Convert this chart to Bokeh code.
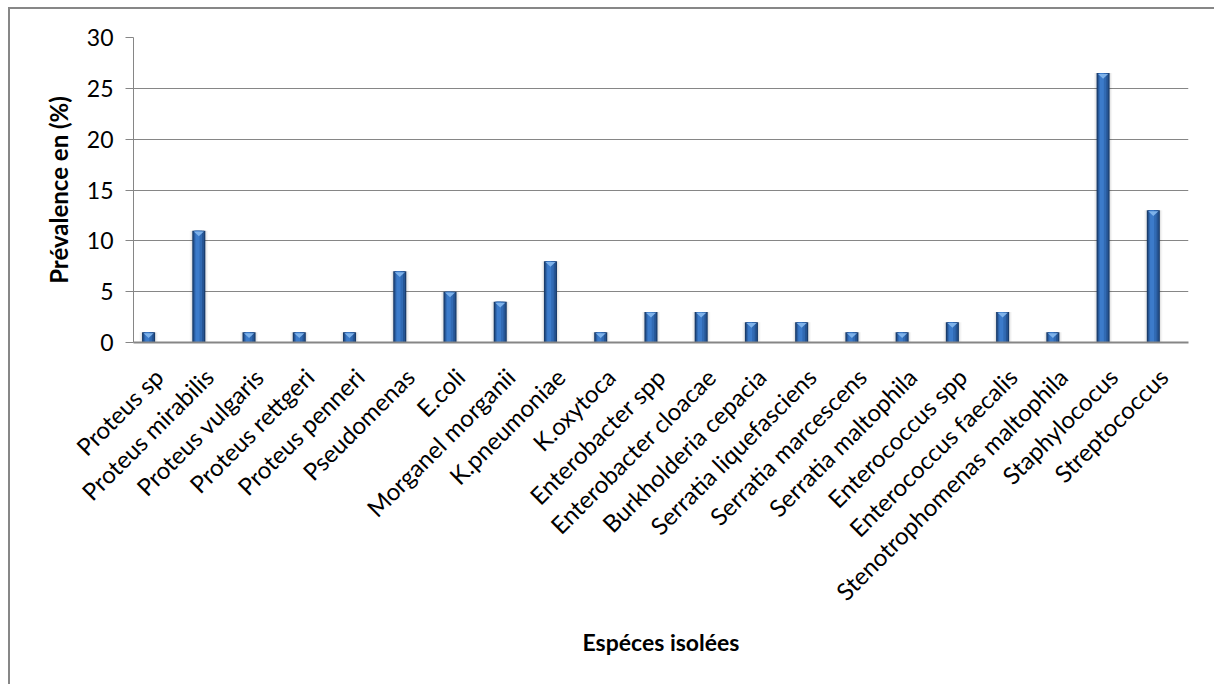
from math import pi

from bokeh.embed import file_html
from bokeh.models import ColumnDataSource, FixedTicker
from bokeh.plotting import figure
from bokeh.resources import INLINE

# Isolated species and their prevalence (%)
species = [
    "Proteus sp", "Proteus mirabilis", "Proteus vulgaris", "Proteus rettgeri",
    "Proteus penneri", "Pseudomenas", "E.coli", "Morganel morganii",
    "K.pneumoniae", "K.oxytoca", "Enterobacter spp", "Enterobacter cloacae",
    "Burkholderia cepacia", "Serratia liquefasciens", "Serratia marcescens",
    "Serratia maltophila", "Enterococcus spp", "Enterococcus faecalis",
    "Stenotrophomenas maltophila", "Staphylococus", "Streptococcus",
]
prevalence = [1, 11, 1, 1, 1, 7, 5, 4, 8, 1, 3, 3, 2, 2, 1, 1, 2, 3, 1, 26.5, 13]

y_ticks = [0, 5, 10, 15, 20, 25, 30]

FONT = "Lato"
GRID = "#868686"

n = len(species)
centers = [i + 0.5 for i in range(n)]
bar_x = [c - 0.2 for c in centers]

src = ColumnDataSource(dict(x=bar_x, top=prevalence))

p = figure(
    frame_width=1055, frame_height=305,
    x_range=(0, n), y_range=(0, 30),
    min_border_left=123, min_border_top=28, min_border_right=26, min_border_bottom=342,
    output_backend="svg", toolbar_location=None,
)
p.margin = (7, 0, 0, 8)
p.styles = {"border-left": "2px solid #878787", "border-top": "2px solid #878787"}
p.outline_line_color = None
p.background_fill_color = "white"
p.border_fill_color = "white"

# grid
p.xgrid.grid_line_color = None
p.ygrid.ticker = FixedTicker(ticks=y_ticks)
p.ygrid.grid_line_color = GRID
p.ygrid.grid_line_width = 1

# y axis
p.yaxis.ticker = FixedTicker(ticks=y_ticks)
p.yaxis.axis_line_color = GRID
p.yaxis.major_tick_line_color = GRID
p.yaxis.major_tick_out = 8
p.yaxis.major_tick_in = 0
p.yaxis.minor_tick_line_color = None
p.yaxis.major_label_text_font = FONT
p.yaxis.major_label_text_font_size = "23px"
p.yaxis.major_label_text_color = "black"
p.yaxis.major_label_standoff = 12
p.yaxis.axis_label = "Prévalence en (%)"
p.yaxis.axis_label_text_font = FONT
p.yaxis.axis_label_text_font_size = "24px"
p.yaxis.axis_label_text_font_style = "bold"
p.yaxis.axis_label_text_color = "black"
p.yaxis.axis_label_standoff = 11

# x axis with species names
p.xaxis.ticker = FixedTicker(ticks=centers)
p.xaxis.major_label_overrides = {c: s for c, s in zip(centers, species)}
p.xaxis.major_label_orientation = pi / 4
p.xaxis.axis_line_color = GRID
p.xaxis.axis_line_width = 2
p.xaxis.major_tick_line_color = None
p.xaxis.minor_tick_line_color = None
p.xaxis.major_label_text_font = FONT
p.xaxis.major_label_text_font_size = "24px"
p.xaxis.major_label_text_color = "black"
p.xaxis.major_label_standoff = 24
p.xaxis.axis_label = "Espéces isolées"
p.xaxis.axis_label_text_font = FONT
p.xaxis.axis_label_text_font_size = "23px"
p.xaxis.axis_label_text_font_style = "bold"
p.xaxis.axis_label_text_color = "black"
p.xaxis.axis_label_standoff = 9

# soft shadow behind the columns
p.vbar(x="x", top="top", bottom=0, width=0.36, source=src, fill_color="black", fill_alpha=0.04, line_color=None)
p.vbar(x="x", top="top", bottom=0, width=0.31, source=src, fill_color="black", fill_alpha=0.06, line_color=None)

# shaded column body: dark rim, lighter core
p.vbar(x="x", top="top", bottom=0, width=0.26, source=src, fill_color="#1a3d6c", line_color=None)
p.vbar(x="x", top="top", bottom=0, width=0.21, source=src, fill_color="#265594", line_color=None)
p.vbar(x=[v - 0.01 for v in bar_x], top=prevalence, bottom=0, width=0.15,
       fill_color="#316ab3", line_color=None)
p.vbar(x=[v - 0.025 for v in bar_x], top=prevalence, bottom=0, width=0.08,
       fill_color="#3c7bca", line_color=None)

# bevelled top of each column
tri_xs = [[v - 0.1, v + 0.1, v] for v in bar_x]
tri_ys = [[t - 0.08, t - 0.08, t - 0.55] for t in prevalence]
p.patches(tri_xs, tri_ys, fill_color="#7eb2ea", line_color=None)

open("out.html", "w").write(file_html(p, INLINE))
